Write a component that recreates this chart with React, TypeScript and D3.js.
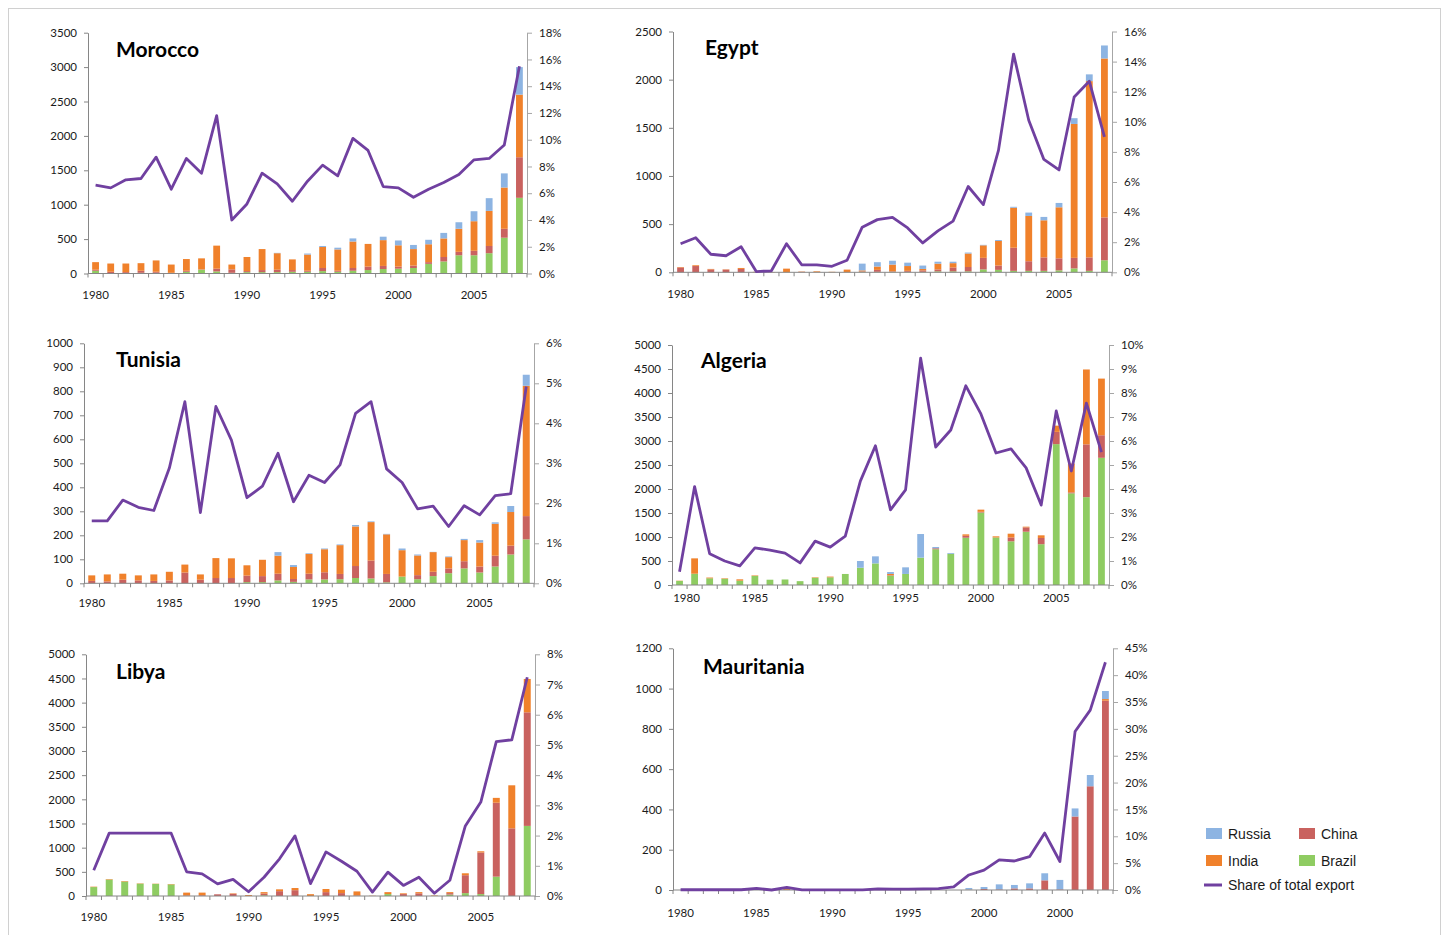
import React, { useEffect, useRef } from 'react'
import * as d3 from 'd3'

const years = [
  '1980', '1981', '1982', '1983', '1984', '1985', '1986', '1987', '1988', '1989',
  '1990', '1991', '1992', '1993', '1994', '1995', '1996', '1997', '1998', '1999',
  '2000', '2001', '2002', '2003', '2004', '2005', '2006', '2007', '2008',
]
const xTickLabels = ['1980', '1985', '1990', '1995', '2000', '2005']
// the source chart really labels the last tick of Mauritania "2000"
const xTickLabelsMauritania = ['1980', '1985', '1990', '1995', '2000', '2000']

// Morocco
const moroccoBrazil = [40, 5, 5, 10, 10, 5, 25, 55, 30, 10, 20, 20, 20, 25, 25, 35, 25, 40, 50, 65, 70, 80, 140, 175, 265, 265, 295, 520, 1100]
const moroccoChina = [15, 20, 15, 30, 15, 5, 15, 5, 40, 50, 15, 30, 35, 25, 15, 45, 15, 40, 50, 45, 30, 35, 25, 65, 50, 65, 105, 130, 590]
const moroccoIndia = [110, 120, 125, 110, 165, 120, 170, 160, 335, 70, 205, 305, 240, 155, 235, 305, 310, 385, 330, 375, 310, 240, 260, 270, 335, 430, 510, 600, 910]
const moroccoRussia = [0, 0, 0, 0, 0, 0, 0, 0, 0, 0, 0, 0, 5, 0, 15, 15, 25, 45, 0, 50, 70, 60, 65, 80, 95, 145, 185, 205, 400]
const moroccoShare = [6.6, 6.4, 7.0, 7.1, 8.7, 6.3, 8.6, 7.5, 11.8, 4.0, 5.2, 7.5, 6.7, 5.4, 6.9, 8.1, 7.3, 10.1, 9.2, 6.5, 6.4, 5.7, 6.3, 6.8, 7.4, 8.5, 8.6, 9.6, 15.5]

// Egypt
const egyptBrazil = [0, 0, 0, 0, 0, 0, 0, 0, 0, 0, 0, 0, 5, 5, 5, 5, 5, 10, 10, 10, 30, 25, 15, 15, 15, 20, 40, 15, 125]
const egyptChina = [50, 65, 30, 28, 35, 0, 0, 0, 5, 0, 0, 0, 5, 20, 5, 10, 15, 20, 40, 45, 120, 45, 240, 100, 140, 125, 110, 140, 445]
const egyptIndia = [5, 8, 5, 3, 10, 5, 3, 38, 3, 10, 5, 28, 10, 35, 70, 50, 15, 60, 45, 140, 130, 255, 415, 470, 385, 530, 1390, 1830, 1650]
const egyptRussia = [0, 0, 0, 0, 0, 0, 0, 0, 0, 0, 0, 0, 70, 45, 40, 35, 35, 20, 15, 10, 5, 10, 10, 35, 35, 45, 60, 70, 135]
const egyptShare = [1.9, 2.3, 1.2, 1.1, 1.7, 0.05, 0.1, 1.9, 0.5, 0.5, 0.4, 0.8, 3.0, 3.5, 3.65, 2.95, 1.95, 2.75, 3.4, 5.7, 4.5, 8.1, 14.5, 10.1, 7.5, 6.8, 11.65, 12.7, 9.0]

// Tunisia
const tunisiaBrazil = [0, 0, 0, 0, 0, 0, 0, 0, 0, 0, 5, 5, 12, 6, 16, 16, 17, 22, 20, 4, 28, 17, 30, 42, 62, 45, 70, 120, 183]
const tunisiaChina = [10, 8, 15, 12, 10, 12, 45, 15, 22, 22, 27, 25, 28, 12, 24, 30, 22, 50, 75, 35, 0, 17, 18, 20, 30, 25, 45, 37, 97]
const tunisiaIndia = [23, 29, 25, 21, 27, 36, 33, 22, 83, 82, 43, 68, 75, 50, 82, 96, 120, 165, 160, 165, 110, 82, 82, 47, 88, 100, 133, 140, 543]
const tunisiaRussia = [0, 0, 0, 0, 0, 0, 0, 0, 0, 0, 0, 0, 15, 8, 3, 3, 3, 6, 3, 2, 7, 4, 1, 3, 5, 10, 6, 25, 46]
const tunisiaShare = [1.56, 1.56, 2.08, 1.9, 1.82, 2.88, 4.54, 1.77, 4.42, 3.58, 2.14, 2.43, 3.25, 2.04, 2.7, 2.52, 2.96, 4.25, 4.54, 2.86, 2.52, 1.86, 1.93, 1.42, 1.94, 1.71, 2.19, 2.24, 4.92]

// Algeria
const algeriaBrazil = [85, 235, 140, 130, 90, 190, 110, 115, 80, 150, 160, 230, 360, 450, 195, 230, 570, 745, 650, 985, 1510, 990, 910, 1110, 850, 2935, 1910, 1830, 2650]
const algeriaChina = [0, 0, 0, 0, 0, 0, 0, 0, 0, 0, 0, 0, 0, 0, 10, 0, 0, 20, 0, 40, 15, 0, 80, 90, 130, 255, 20, 1100, 470]
const algeriaIndia = [5, 320, 15, 10, 28, 10, 0, 0, 0, 10, 15, 0, 0, 0, 25, 0, 0, 0, 0, 30, 45, 24, 79, 15, 55, 130, 600, 1560, 1180]
const algeriaRussia = [0, 0, 0, 0, 0, 0, 0, 0, 0, 0, 0, 0, 140, 147, 40, 138, 492, 27, 17, 0, 0, 0, 0, 0, 0, 0, 0, 0, 0]
const algeriaShare = [0.55, 4.1, 1.3, 1.0, 0.8, 1.55, 1.45, 1.33, 0.92, 1.83, 1.58, 2.04, 4.33, 5.8, 3.13, 3.96, 9.45, 5.75, 6.46, 8.3, 7.13, 5.5, 5.67, 4.88, 3.33, 7.25, 4.75, 7.58, 5.54]

// Libya
const libyaBrazil = [185, 340, 300, 255, 250, 240, 0, 0, 0, 0, 0, 15, 0, 0, 0, 0, 0, 0, 0, 40, 0, 0, 0, 30, 60, 40, 400, 0, 1450]
const libyaChina = [0, 0, 0, 0, 0, 0, 10, 15, 35, 45, 0, 35, 100, 120, 0, 80, 60, 10, 0, 0, 40, 55, 0, 30, 370, 860, 1530, 1400, 2350]
const libyaIndia = [8, 10, 10, 7, 5, 8, 60, 55, 0, 10, 20, 30, 38, 45, 38, 65, 70, 85, 5, 40, 15, 25, 10, 20, 40, 25, 100, 890, 690]
const libyaRussia = [0, 0, 0, 0, 0, 0, 0, 0, 0, 0, 0, 0, 0, 0, 0, 0, 0, 0, 0, 0, 0, 0, 0, 0, 0, 0, 0, 0, 0]
const libyaShare = [0.85, 2.08, 2.08, 2.08, 2.08, 2.08, 0.8, 0.73, 0.4, 0.55, 0.14, 0.62, 1.23, 1.99, 0.41, 1.46, 1.15, 0.82, 0.13, 0.79, 0.35, 0.62, 0.09, 0.52, 2.32, 3.11, 5.11, 5.17, 7.24]

// Mauritania
const mauritaniaBrazil = [0, 0, 0, 0, 0, 0, 0, 0, 0, 0, 0, 0, 0, 0, 0, 0, 0, 0, 0, 0, 0, 0, 0, 0, 0, 0, 0, 0, 0]
const mauritaniaChina = [0, 0, 0, 0, 0, 0, 0, 0, 0, 0, 0, 0, 0, 0, 0, 0, 0, 0, 0, 0, 5, 3, 8, 8, 48, 3, 365, 515, 940]
const mauritaniaIndia = [0, 0, 0, 0, 0, 3, 0, 5, 0, 0, 0, 0, 0, 0, 0, 0, 0, 0, 0, 2, 0, 0, 0, 0, 0, 0, 0, 0, 8]
const mauritaniaRussia = [0, 0, 0, 0, 0, 0, 0, 0, 0, 0, 0, 0, 0, 0, 0, 0, 0, 0, 0, 8, 10, 25, 17, 25, 35, 47, 40, 56, 40]
const mauritaniaShare = [0.05, 0.05, 0.05, 0.05, 0.05, 0.3, 0, 0.5, 0.03, 0.03, 0.03, 0.03, 0.03, 0.2, 0.15, 0.15, 0.2, 0.25, 0.6, 2.8, 3.7, 5.6, 5.4, 6.2, 10.6, 5.3, 29.5, 33.5, 42.4]

const seriesKeys = ['brazil', 'china', 'india', 'russia']
const colors: Record<string, string> = {
  russia: '#8db4e2',
  china: '#c9625f',
  india: '#f0812b',
  brazil: '#8fcc62',
}
const lineColor = '#7040a0'
const font = 'Lato, "Open Sans", sans-serif'

interface Panel {
  name: string
  brazil: number[]
  china: number[]
  india: number[]
  russia: number[]
  share: number[]
  yMax: number
  yStep: number
  pMax: number
  pStep: number
  box: { left: number; right: number; top: number; bottom: number }
  title: { x: number; y: number }
  labelDy: number
  firstLabelDx: number
  labels: string[]
}

const panels: Panel[] = [
  {
    name: 'Morocco', brazil: moroccoBrazil, china: moroccoChina, india: moroccoIndia, russia: moroccoRussia, share: moroccoShare,
    yMax: 3500, yStep: 500, pMax: 18, pStep: 2,
    box: { left: 88, right: 527, top: 32.7, bottom: 273.5 }, title: { x: 116, y: 57 }, labelDy: 25, firstLabelDx: 0, labels: xTickLabels,
  },
  {
    name: 'Egypt', brazil: egyptBrazil, china: egyptChina, india: egyptIndia, russia: egyptRussia, share: egyptShare,
    yMax: 2500, yStep: 500, pMax: 16, pStep: 2,
    box: { left: 673, right: 1112, top: 31.5, bottom: 272.3 }, title: { x: 705, y: 55 }, labelDy: 25.5, firstLabelDx: 0, labels: xTickLabels,
  },
  {
    name: 'Tunisia', brazil: tunisiaBrazil, china: tunisiaChina, india: tunisiaIndia, russia: tunisiaRussia, share: tunisiaShare,
    yMax: 1000, yStep: 100, pMax: 6, pStep: 1,
    box: { left: 84, right: 534, top: 343.3, bottom: 583.3 }, title: { x: 116, y: 367 }, labelDy: 24, firstLabelDx: 0, labels: xTickLabels,
  },
  {
    name: 'Algeria', brazil: algeriaBrazil, china: algeriaChina, india: algeriaIndia, russia: algeriaRussia, share: algeriaShare,
    yMax: 5000, yStep: 500, pMax: 10, pStep: 1,
    box: { left: 672, right: 1109, top: 345, bottom: 585 }, title: { x: 701, y: 368 }, labelDy: 16.5, firstLabelDx: 7, labels: xTickLabels,
  },
  {
    name: 'Libya', brazil: libyaBrazil, china: libyaChina, india: libyaIndia, russia: libyaRussia, share: libyaShare,
    yMax: 5000, yStep: 500, pMax: 8, pStep: 1,
    box: { left: 86, right: 535, top: 654.3, bottom: 896 }, title: { x: 116, y: 679 }, labelDy: 24.5, firstLabelDx: 0, labels: xTickLabels,
  },
  {
    name: 'Mauritania', brazil: mauritaniaBrazil, china: mauritaniaChina, india: mauritaniaIndia, russia: mauritaniaRussia, share: mauritaniaShare,
    yMax: 1200, yStep: 200, pMax: 45, pStep: 5,
    box: { left: 673, right: 1113, top: 648.3, bottom: 890 }, title: { x: 703, y: 674 }, labelDy: 26.5, firstLabelDx: 0, labels: xTickLabelsMauritania,
  },
]

const legendItems = [
  { key: 'russia', label: 'Russia', x: 1206, y: 828 },
  { key: 'china', label: 'China', x: 1299, y: 828 },
  { key: 'india', label: 'India', x: 1206, y: 855 },
  { key: 'brazil', label: 'Brazil', x: 1299, y: 855 },
]

function drawPanel(root: d3.Selection<SVGSVGElement, unknown, null, undefined>, p: Panel) {
  const { left, right, top, bottom } = p.box
  const g = root.append('g')

  const rows = years.map((yr, i) => ({
    year: yr,
    brazil: p.brazil[i],
    china: p.china[i],
    india: p.india[i],
    russia: p.russia[i],
  }))

  const x = d3.scaleBand().domain(years).range([left, right]).paddingInner(0.55).paddingOuter(0.275)
  const y = d3.scaleLinear().domain([0, p.yMax]).range([bottom, top])
  const yp = d3.scaleLinear().domain([0, p.pMax]).range([bottom, top])

  const stacked = d3.stack<any>().keys(seriesKeys)(rows)

  g.append('g')
    .selectAll('g')
    .data(stacked)
    .join('g')
    .attr('fill', d => colors[d.key])
    .selectAll('rect')
    .data(d => d)
    .join('rect')
    .attr('x', d => x(d.data.year)!)
    .attr('y', d => y(d[1]))
    .attr('width', x.bandwidth())
    .attr('height', d => Math.max(0, y(d[0]) - y(d[1])))

  // left axis
  const leftAxis = g.append('g')
    .attr('transform', `translate(${left},0)`)
    .call(
      d3.axisLeft(y)
        .tickValues(d3.range(0, p.yMax + 1, p.yStep))
        .tickFormat(d3.format('d'))
        .tickSize(4)
        .tickPadding(7)
        .tickSizeOuter(0),
    )
  leftAxis.select('.domain').attr('stroke', '#868686')
  leftAxis.selectAll('.tick line').attr('stroke', '#868686')
  leftAxis.selectAll('.tick text').style('font-family', font).style('font-size', '11.5px').attr('fill', '#1a1a1a')

  // right axis
  const rightAxis = g.append('g')
    .attr('transform', `translate(${right},0)`)
    .call(
      d3.axisRight(yp)
        .tickValues(d3.range(0, p.pMax + 0.001, p.pStep))
        .tickFormat(d => `${d}%`)
        .tickSize(5)
        .tickPadding(7)
        .tickSizeOuter(0),
    )
  rightAxis.select('.domain').attr('stroke', '#a6a6a6')
  rightAxis.selectAll('.tick line').attr('stroke', '#a6a6a6')
  rightAxis.selectAll('.tick text').style('font-family', font).style('font-size', '11.5px').attr('fill', '#1a1a1a')

  // category axis: ticks between categories, labels every 5 years
  g.append('line')
    .attr('x1', left).attr('x2', right)
    .attr('y1', bottom).attr('y2', bottom)
    .attr('stroke', '#868686')
  g.append('g')
    .selectAll('line')
    .data(d3.range(years.length + 1))
    .join('line')
    .attr('x1', i => left + i * x.step())
    .attr('x2', i => left + i * x.step())
    .attr('y1', bottom)
    .attr('y2', bottom + 4)
    .attr('stroke', '#868686')
  g.append('g')
    .selectAll('text')
    .data(p.labels)
    .join('text')
    .attr('x', (d, i) => x(years[i * 5])! + x.bandwidth() / 2 + (i === 0 ? p.firstLabelDx : 0))
    .attr('y', bottom + p.labelDy)
    .attr('text-anchor', 'middle')
    .style('font-family', font)
    .style('font-size', '11.5px')
    .attr('fill', '#1a1a1a')
    .text(d => d)

  // share line
  const line = d3.line<number>()
    .x((d, i) => x(years[i])! + x.bandwidth() / 2)
    .y(d => yp(d))
  g.append('path')
    .datum(p.share)
    .attr('d', line)
    .attr('fill', 'none')
    .attr('stroke', lineColor)
    .attr('stroke-width', 2.8)
    .attr('stroke-linejoin', 'round')

  g.append('text')
    .attr('x', p.title.x)
    .attr('y', p.title.y)
    .style('font-family', font)
    .style('font-size', '21px')
    .style('font-weight', 700)
    .attr('fill', '#000')
    .text(p.name)
}

const App: React.FC = () => {
  const svgRef = useRef<SVGSVGElement | null>(null)

  useEffect(() => {
    if (!svgRef.current) return
    const svg = d3.select(svgRef.current)
    svg.selectAll('*').remove()

    svg.append('rect')
      .attr('x', 8.5).attr('y', 8.5)
      .attr('width', 1432).attr('height', 940)
      .attr('fill', '#fff')
      .attr('stroke', '#d0d0d0')

    panels.forEach(p => drawPanel(svg, p))

    const legend = svg.append('g')
    legend.selectAll('rect')
      .data(legendItems)
      .join('rect')
      .attr('x', d => d.x)
      .attr('y', d => d.y)
      .attr('width', 16)
      .attr('height', 11)
      .attr('fill', d => colors[d.key])
    legend.selectAll('text')
      .data(legendItems)
      .join('text')
      .attr('x', d => d.x + 22)
      .attr('y', d => d.y + 10.5)
      .style('font-family', '"Liberation Sans", Arial, sans-serif')
      .style('font-size', '14px')
      .attr('fill', '#1a1a1a')
      .text(d => d.label)
    legend.append('line')
      .attr('x1', 1204).attr('x2', 1222)
      .attr('y1', 885).attr('y2', 885)
      .attr('stroke', lineColor)
      .attr('stroke-width', 3)
    legend.append('text')
      .attr('x', 1228)
      .attr('y', 890)
      .style('font-family', '"Liberation Sans", Arial, sans-serif')
      .style('font-size', '14px')
      .attr('fill', '#1a1a1a')
      .text('Share of total export')
  }, [])

  return (
    <svg
      ref={svgRef}
      width={1448}
      height={935}
      style={{ position: 'absolute', left: 0, top: 0, background: '#fff' }}
    ></svg>
  )
}

export default App
